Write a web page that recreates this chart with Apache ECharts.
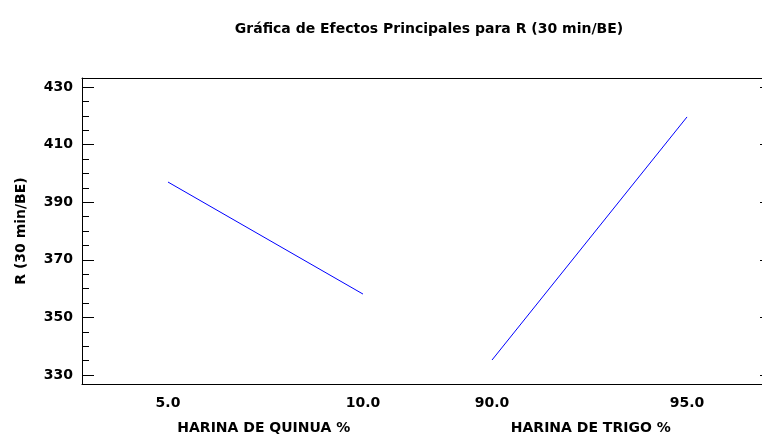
<!DOCTYPE html>
<html>
<head>
<meta charset="utf-8">
<script src="https://cdn.jsdelivr.net/npm/echarts@6/dist/echarts.min.js"></script>
<style>html,body{margin:0;padding:0;background:#fff}#c{width:762px;height:444px}</style>
</head>
<body>
<div id="c"></div>
<script>
// Data
const titleText = 'Gráfica de Efectos Principales para R (30 min/BE)';
const yName = 'R (30 min/BE)';
const factor1Name = 'HARINA DE QUINUA %';
const factor2Name = 'HARINA DE TRIGO %';
const factor1Levels = [5.0, 10.0];
const factor1Means = [397.0, 358.1];
const factor2Levels = [90.0, 95.0];
const factor2Means = [335.2, 419.6];
const yTicks = [330, 350, 370, 390, 410, 430];
const yMinorTicks = [335, 340, 345, 355, 360, 365, 375, 380, 385, 395, 400, 405, 415, 420, 425];
const yMin = 326.875, yMax = 433.125;
const x1Min = 2.795, x1Max = 11.654;
const x2Min = 88.346, x2Max = 97.179;

const FONT = 'DejaVu Sans';
const lbl = {fontFamily: FONT, fontWeight: 'bold', fontSize: 14, color: '#000'};
const blackLine = {show: true, lineStyle: {color: '#000', width: 1}};

const chart = echarts.init(document.getElementById('c'), null, {renderer: 'canvas'});
chart.setOption({
  animation: false,
  backgroundColor: '#fff',
  title: {
    text: titleText, left: 424, top: 17, textAlign: 'center',
    textStyle: {fontFamily: FONT, fontWeight: 'bold', fontSize: 14, color: '#000'}
  },
  grid: [
    {left: 82, top: 78, width: 345.5, height: 306, outerBoundsMode: 'none', containLabel: false},
    {left: 427.5, top: 78, width: 344.5, height: 306, outerBoundsMode: 'none', containLabel: false}
  ],
  xAxis: [
    {type: 'value', gridIndex: 0, position: 'bottom', min: x1Min, max: x1Max,
     axisLine: blackLine, axisTick: {show: false}, splitLine: {show: false},
     axisLabel: Object.assign({customValues: factor1Levels, margin: 12, formatter: v => v.toFixed(1)}, lbl),
     name: factor1Name, nameLocation: 'middle', nameGap: 37,
     nameTextStyle: Object.assign({padding: [0, 0, 0, 18]}, lbl)},
    {type: 'value', gridIndex: 1, position: 'bottom', min: x2Min, max: x2Max,
     axisLine: blackLine, axisTick: {show: false}, splitLine: {show: false},
     axisLabel: Object.assign({customValues: factor2Levels, margin: 12, formatter: v => v.toFixed(1)}, lbl),
     name: factor2Name, nameLocation: 'middle', nameGap: 37,
     nameTextStyle: Object.assign({padding: [0, 18, 0, 0]}, lbl)},
    {type: 'value', gridIndex: 0, position: 'top', min: x1Min, max: x1Max,
     axisLine: blackLine, axisTick: {show: false}, axisLabel: {show: false}, splitLine: {show: false}},
    {type: 'value', gridIndex: 1, position: 'top', min: x2Min, max: x2Max,
     axisLine: blackLine, axisTick: {show: false}, axisLabel: {show: false}, splitLine: {show: false}}
  ],
  yAxis: [
    {type: 'value', gridIndex: 0, position: 'left', min: yMin, max: yMax,
     axisLine: blackLine, splitLine: {show: false},
     axisTick: {show: true, inside: true, length: 12, customValues: yTicks, lineStyle: {color: '#000'}},
     axisLabel: Object.assign({customValues: yTicks, margin: 9}, lbl),
     name: yName, nameLocation: 'middle', nameGap: 54, nameTextStyle: lbl},
    {type: 'value', gridIndex: 0, position: 'left', min: yMin, max: yMax,
     axisLine: {show: false}, splitLine: {show: false}, axisLabel: {show: false},
     axisTick: {show: true, inside: true, length: 7, customValues: yMinorTicks, lineStyle: {color: '#000'}}},
    {type: 'value', gridIndex: 1, position: 'right', min: yMin, max: yMax,
     axisLine: blackLine, splitLine: {show: false}, axisLabel: {show: false},
     axisTick: {show: true, inside: true, length: 12, customValues: yTicks, lineStyle: {color: '#000'}}}
  ],
  series: [
    {type: 'line', xAxisIndex: 0, yAxisIndex: 0, showSymbol: false, symbol: 'none',
     lineStyle: {color: '#0000ff', width: 1}, data: factor1Levels.map((x, i) => [x, factor1Means[i]])},
    {type: 'line', xAxisIndex: 1, yAxisIndex: 2, showSymbol: false, symbol: 'none',
     lineStyle: {color: '#0000ff', width: 1}, data: factor2Levels.map((x, i) => [x, factor2Means[i]])}
  ]
});
</script>
</body>
</html>
